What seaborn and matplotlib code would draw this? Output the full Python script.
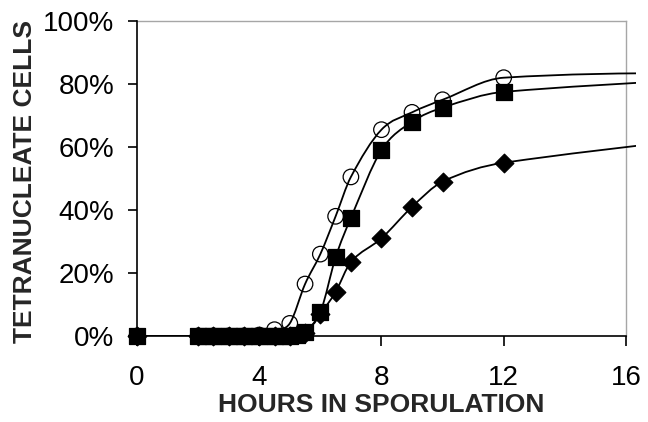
import numpy as np
import matplotlib
matplotlib.use("Agg")
import matplotlib.pyplot as plt
from matplotlib.path import Path
from matplotlib.patches import PathPatch
from matplotlib.ticker import PercentFormatter
import seaborn as sns

# hours in sporulation and % tetranucleate cells
circle_hours = [0, 2, 2.5, 3, 3.5, 4, 4.5, 5, 5.5, 6, 6.5, 7, 8, 9, 10, 12, 24]
circle_pct = [0, 0, 0, 0, 0, 0.3, 2, 4, 16.5, 26, 38, 50.5, 65.5, 71, 75, 82, 83.5]

square_hours = [0, 2, 2.25, 2.5, 2.75, 3, 3.25, 3.5, 3.75, 4, 4.25, 4.5, 4.75, 5, 5.25,
                5.5, 6, 6.5, 7, 8, 9, 10, 12, 24]
square_pct = [0, 0, 0, 0, 0, 0, 0, 0, 0, 0, 0, 0, 0, 0, 0.3,
              1.3, 7.5, 25, 37.5, 59, 68, 72.5, 77.5, 84]

diamond_hours = [0, 2, 2.5, 3, 3.5, 4, 4.5, 5, 5.5, 6, 6.5, 7, 8, 9, 10, 12, 24]
diamond_pct = [0, 0, 0, 0, 0, 0, 0, 0, 1, 7, 14, 23.5, 31, 41, 49, 55, 68.5]

x_ticks = [0, 4, 8, 12, 16]
y_ticks = [0, 20, 40, 60, 80, 100]


def smooth_path(xs, ys):
    # smoothed line as cubic bezier pieces, tangents from neighbouring points
    x = np.asarray(xs, float)
    y = np.asarray(ys, float)
    n = len(x)
    m = np.zeros(n)
    m[0] = (y[1] - y[0]) / (x[1] - x[0])
    m[-1] = (y[-1] - y[-2]) / (x[-1] - x[-2])
    m[1:-1] = (y[2:] - y[:-2]) / (x[2:] - x[:-2])
    verts = [(x[0], y[0])]
    codes = [Path.MOVETO]
    for i in range(n - 1):
        h = x[i + 1] - x[i]
        verts += [(x[i] + h / 3, y[i] + m[i] * h / 3),
                  (x[i + 1] - h / 3, y[i + 1] - m[i + 1] * h / 3),
                  (x[i + 1], y[i + 1])]
        codes += [Path.CURVE4] * 3
    return Path(verts, codes)


sns.set_style("ticks")
plt.rcParams["font.family"] = ["Liberation Sans", "DejaVu Sans"]

fig = plt.figure(figsize=(6.48, 4.22), dpi=100)
ax = fig.add_axes([137 / 648, 86 / 422, 499 / 648, 315 / 422])

series = [
    (circle_hours, circle_pct, "o", 125, "none"),
    (square_hours, square_pct, "s", 140, "black"),
    (diamond_hours, diamond_pct, "D", 90, "black"),
]
for z, (hx, py, mk, size, fc) in enumerate(series):
    ax.add_patch(PathPatch(smooth_path(hx, py), fill=False, edgecolor="black",
                           lw=1.3, zorder=2 + 2 * z))
    sns.scatterplot(x=hx, y=py, marker=mk, s=size, ax=ax, zorder=3 + 2 * z,
                    facecolor=fc, edgecolor="black", linewidth=0.9)
for coll in ax.collections:
    coll.set_clip_on(False)

ax.set_xlim(0, 16.33)
ax.set_ylim(0, 100)
ax.set_xticks(x_ticks)
ax.set_yticks(y_ticks)
ax.yaxis.set_major_formatter(PercentFormatter(100, decimals=0))

for side in ["left", "bottom"]:
    ax.spines[side].set_color("black")
    ax.spines[side].set_linewidth(1.2)
ax.spines["bottom"].set_bounds(0, 16)
ax.spines["top"].set_bounds(0, 16)
ax.spines["top"].set_color("#a6a6a6")
ax.spines["right"].set_position(("data", 16))
ax.spines["right"].set_color("#a6a6a6")
for side in ["top", "right"]:
    ax.spines[side].set_linewidth(1.0)
    ax.spines[side].set_zorder(0)

ax.tick_params(axis="y", direction="out", length=6.5, width=1.2, pad=10,
               labelsize=20, colors="black")
ax.tick_params(axis="x", direction="out", length=7, width=1.2, pad=14,
               labelsize=20, colors="black")

ax.set_xlabel("HOURS IN SPORULATION", fontsize=19, fontweight="bold")
ax.set_ylabel("TETRANUCLEATE CELLS", fontsize=19, fontweight="bold")
ax.xaxis.set_label_coords((381 - 137) / 499, -(405 - 336) / 315)
ax.xaxis.label.set_va("center")
ax.yaxis.set_label_coords(-(137 - 25) / 499, 0.49)
ax.yaxis.label.set_va("center")

fig.savefig("out.png", dpi=100)
